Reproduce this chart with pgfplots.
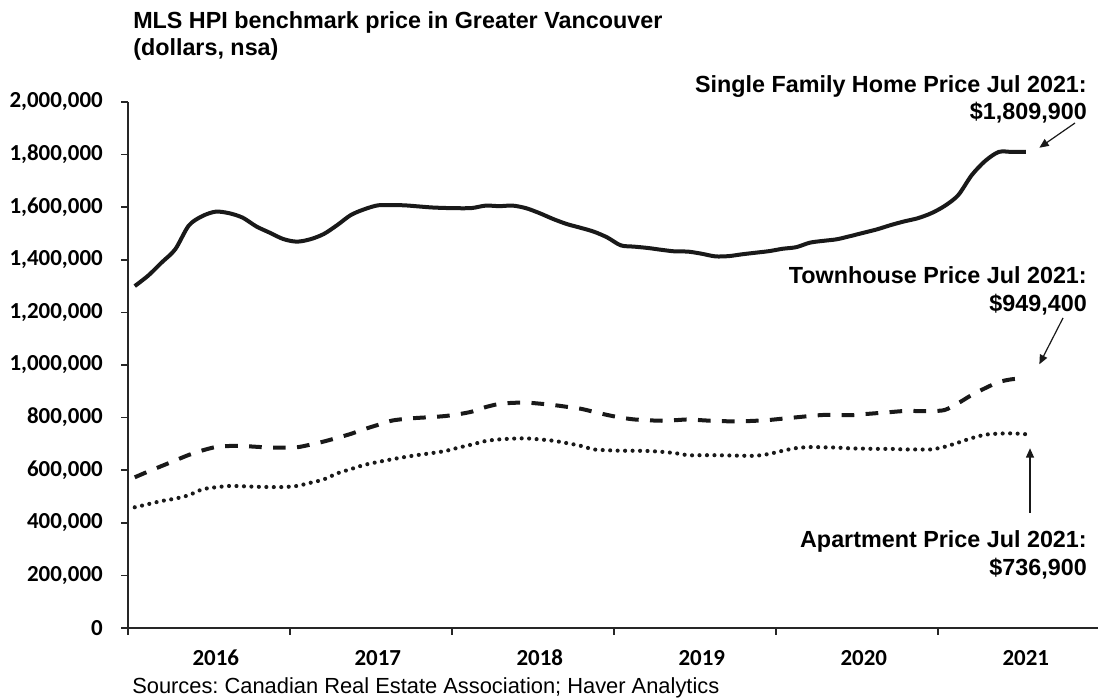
\documentclass[border=0pt]{standalone}
\usepackage{fontspec}
\setmainfont{Liberation Sans}
\newfontfamily\tickfont{Carlito}
\usepackage{pgfplots}
\usepackage{pgfplotstable}
\pgfplotsset{compat=1.18}
\usetikzlibrary{arrows.meta}
\frenchspacing

\pgfplotstableread{
x sf th ap
0.5 1300000 573000 459000
1.5 1340000 595000 471000
2.5 1390000 616000 483000
3.5 1440000 637000 492000
4.5 1530000 658000 505000
5.5 1566000 675000 527000
6.5 1583000 688000 535000
7.5 1577000 692000 540000
8.5 1560000 692000 539000
9.5 1527000 689000 537000
10.5 1503000 686000 536000
11.5 1479000 686000 536000
12.5 1469000 687000 540000
13.5 1478000 697000 552000
14.5 1498000 709000 565000
15.5 1532000 723000 588000
16.5 1570000 738000 604000
17.5 1592000 756000 620000
18.5 1607000 772000 631000
19.5 1608000 788000 641000
20.5 1607000 795000 650000
21.5 1603000 799000 658000
22.5 1599000 802000 665000
23.5 1597000 806000 673000
24.5 1596000 813000 686000
25.5 1597000 823000 698000
26.5 1606000 840000 711000
27.5 1604000 852000 717000
28.5 1606000 856000 720000
29.5 1596000 857000 721000
30.5 1577000 853000 717000
31.5 1555000 848000 712000
32.5 1536000 841000 703000
33.5 1522000 834000 693000
34.5 1507000 822000 679000
35.5 1485000 810000 676000
36.5 1455000 800000 674000
37.5 1450000 793000 674000
38.5 1445000 790000 673000
39.5 1438000 788000 670000
40.5 1432000 790000 665000
41.5 1431000 793000 657000
42.5 1423000 790000 657000
43.5 1413000 787000 657000
44.5 1414000 786000 656000
45.5 1421000 786000 655000
46.5 1427000 788000 655000
47.5 1433000 791000 662000
48.5 1442000 796000 674000
49.5 1448000 801000 684000
50.5 1465000 806000 688000
51.5 1472000 810000 687000
52.5 1478000 810000 686000
53.5 1490000 809000 683000
54.5 1503000 813000 682000
55.5 1516000 817000 681000
56.5 1532000 821000 681000
57.5 1546000 825000 679000
58.5 1558000 825000 679000
59.5 1577000 825000 679000
60.5 1605000 829000 689000
61.5 1646000 855000 705000
62.5 1722000 886000 722000
63.5 1776000 912000 735000
64.5 1810000 935000 739000
65.5 1810000 946000 740000
66.5 1809900 949400 736900
}\data

\begin{document}
\begin{tikzpicture}
\path[use as bounding box] (0,0) rectangle (823.5pt,523.5pt);
\begin{axis}[
  at={(96pt,52.5pt)}, anchor=south west,
  scale only axis, width=729pt, height=394.5pt,
  xmin=0, xmax=72, ymin=0, ymax=2000000,
  axis x line=bottom, axis y line=left,
  axis line style={-, line width=1.5pt, black!85},
  xtick={0,12,...,72}, xticklabels={},
  extra x ticks={6.5,18.5,30.5,42.5,54.5,66.5},
  extra x tick labels={2016,2017,2018,2019,2020,2021},
  extra x tick style={major tick length=0pt},
  ytick={0,200000,...,2000000},
  tick align=outside, major tick length=5.25pt,
  tick style={line width=1.2pt, black!85},
  scaled y ticks=false,
  /pgf/number format/assume math mode=true,
  tick label style={font=\tickfont\bfseries\fontsize{17.2}{18}\selectfont},
  yticklabel style={/pgf/number format/fixed, /pgf/number format/1000 sep={,}, anchor=east, inner sep=0pt, xshift=-13.5pt},
  xticklabel style={anchor=base, inner sep=0pt, yshift=-28.5pt},
  clip=false,
]
\addplot[black!90, line width=3pt, smooth, line join=round] table[x=x,y=sf]{\data};
\addplot[black!90, line width=3pt, smooth, dash pattern=on 9.5pt off 8.5pt] table[x=x,y=th]{\data};
\addplot[black!90, line width=3.1pt, smooth, line cap=round, dash pattern=on 0pt off 5.6pt] table[x=x,y=ap]{\data};
\end{axis}
\node[anchor=base west, inner sep=0pt, font=\bfseries\fontsize{17.5}{21}\selectfont] at (99.75pt,501.75pt) {MLS HPI benchmark price in Greater Vancouver};
\node[anchor=base west, inner sep=0pt, font=\bfseries\fontsize{17.5}{21}\selectfont] at (99.75pt,481.5pt) {(dollars, nsa)};
\node[anchor=base east, inner sep=0pt, font=\bfseries\fontsize{17.5}{21}\selectfont] at (815.25pt,454pt) {Single Family Home Price Jul 2021:};
\node[anchor=base east, inner sep=0pt, font=\bfseries\fontsize{17.5}{21}\selectfont] at (815.25pt,433.5pt) {\$1,809,900};
\node[anchor=base east, inner sep=0pt, font=\bfseries\fontsize{17.5}{21}\selectfont] at (815.25pt,310.5pt) {Townhouse Price Jul 2021:};
\node[anchor=base east, inner sep=0pt, font=\bfseries\fontsize{17.5}{21}\selectfont] at (815.25pt,289.9pt) {\$949,400};
\node[anchor=base east, inner sep=0pt, font=\bfseries\fontsize{17.5}{21}\selectfont] at (815.25pt,112.5pt) {Apartment Price Jul 2021:};
\node[anchor=base east, inner sep=0pt, font=\bfseries\fontsize{17.5}{21}\selectfont] at (815.25pt,91.5pt) {\$736,900};
\node[anchor=base west, inner sep=0pt, font=\fontsize{16.4}{20}\selectfont] at (99pt,3pt) {Sources: Canadian Real Estate Association; Haver Analytics};
\draw[black!90, line width=0.9pt, -{Triangle[length=7pt,width=6pt]}] (806.25pt,431.25pt) -- (779.5pt,412.7pt);
\draw[black!90, line width=0.9pt, -{Triangle[length=7pt,width=6pt]}] (797.25pt,285pt) -- (779.5pt,250.3pt);
\draw[black!90, line width=0.9pt, -{Triangle[length=7pt,width=6pt]}] (772.5pt,138.75pt) -- (772.5pt,187.3pt);
\end{tikzpicture}
\end{document}
